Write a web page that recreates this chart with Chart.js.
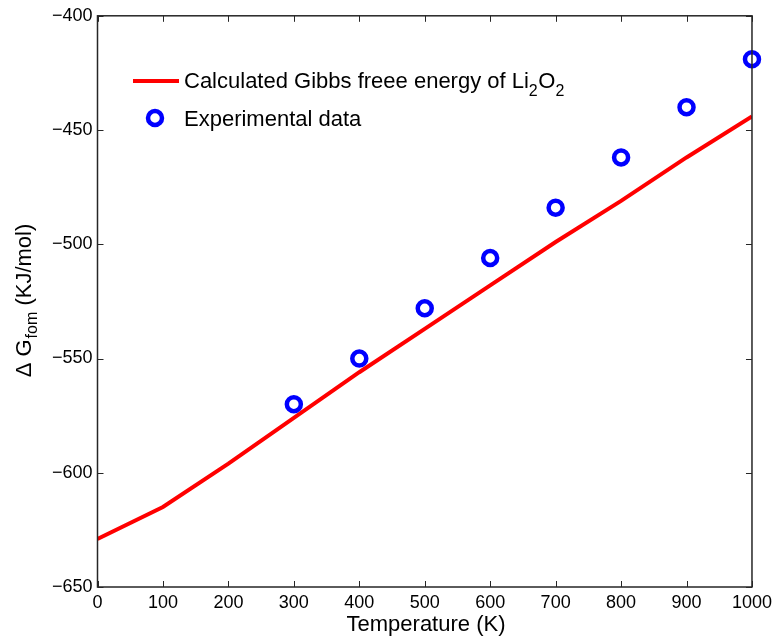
<!DOCTYPE html>
<html><head><meta charset="utf-8">
<script src="https://cdn.jsdelivr.net/npm/chart.js@4/dist/chart.umd.min.js"></script>
<style>html,body{margin:0;padding:0;background:#fff}#wrap{width:777px;height:641px}</style>
</head><body><div id="wrap"><canvas id="c" width="777" height="641"></canvas></div>
<script>
const temps = [0,100,200,300,400,500,600,700,800,900,1000];
const calcG = [-629,-615,-596,-576,-556,-537,-518,-499,-481,-462,-444];
const expT = [300,400,500,600,700,800,900,1000];
const expG = [-570,-550,-528,-506,-484,-462,-440,-419];
const xTicks = [0,100,200,300,400,500,600,700,800,900,1000];
const yTicks = [-650,-600,-550,-500,-450,-400];
const FONT = '"Liberation Sans", Arial, sans-serif';

const decor = {
  id:'decor',
  afterDraw(chart){
    const ctx = chart.ctx, a = chart.chartArea, xs = chart.scales.x, ys = chart.scales.y;
    ctx.save();
    ctx.strokeStyle = '#262626'; ctx.lineWidth = 1.5;
    ctx.strokeRect(a.left, a.top, a.right-a.left, a.bottom-a.top);
    ctx.lineWidth = 1;
    const L = 6;
    xTicks.forEach(v=>{ const p = Math.round(xs.getPixelForValue(v))+0.5;
      ctx.beginPath(); ctx.moveTo(p,a.bottom); ctx.lineTo(p,a.bottom-L);
      ctx.moveTo(p,a.top); ctx.lineTo(p,a.top+L); ctx.stroke(); });
    yTicks.forEach(v=>{ const p = Math.round(ys.getPixelForValue(v))+0.5;
      ctx.beginPath(); ctx.moveTo(a.left,p); ctx.lineTo(a.left+L,p);
      ctx.moveTo(a.right,p); ctx.lineTo(a.right-L,p); ctx.stroke(); });
    // x title
    ctx.fillStyle = '#000'; ctx.textAlign='center'; ctx.textBaseline='alphabetic';
    ctx.font = '22px '+FONT;
    ctx.fillText('Temperature (K)', 426, 631);
    // y title with subscript
    ctx.save();
    ctx.translate(31, 301);
    ctx.rotate(-Math.PI/2);
    const p1 = '\u0394 G', sub = 'fom', p2 = ' (KJ/mol)';
    ctx.font = '22px '+FONT; const w1 = ctx.measureText(p1).width, w3 = ctx.measureText(p2).width;
    ctx.font = '16px '+FONT; const w2 = ctx.measureText(sub).width;
    let x0 = -(w1+w2+w3)/2;
    ctx.textAlign='left';
    ctx.font = '22px '+FONT; ctx.fillText(p1, x0, 0);
    ctx.font = '16px '+FONT; ctx.fillText(sub, x0+w1+1, 6);
    ctx.font = '22px '+FONT; ctx.fillText(p2, x0+w1+w2+1, 0);
    ctx.restore();
    // legend
    ctx.strokeStyle = '#ff0000'; ctx.lineWidth = 4;
    ctx.beginPath(); ctx.moveTo(133,81); ctx.lineTo(179,81); ctx.stroke();
    ctx.fillStyle = '#000'; ctx.textAlign='left'; ctx.textBaseline='alphabetic';
    let tx = 184;
    const parts = [['Calculated Gibbs freee energy of Li',0],['2',1],['O',0],['2',1]];
    parts.forEach(([t,s])=>{
      ctx.font = (s? '16px ':'22px ')+FONT;
      ctx.fillText(t, tx, s? 96 : 88);
      tx += ctx.measureText(t).width + (s?0.5:0);
    });
    ctx.font = '22px '+FONT;
    ctx.fillText('Experimental data', 184, 126);
    ctx.strokeStyle = '#0000ff'; ctx.lineWidth = 4.5; ctx.fillStyle='#fff';
    ctx.beginPath(); ctx.arc(155,118,7,0,Math.PI*2); ctx.fill(); ctx.stroke();
    ctx.restore();
  }
};

new Chart(document.getElementById('c'), {
  type:'line',
  data:{ datasets:[
    { label:'Experimental data', data: expT.map((t,i)=>({x:t,y:expG[i]})), showLine:false,
      pointStyle:'circle', pointRadius:7, pointBorderWidth:4.5, pointBorderColor:'#0000ff',
      pointBackgroundColor:'#ffffff', borderColor:'#0000ff', order:0, clip:false },
    { label:'Calculated Gibbs freee energy of Li2O2', data: temps.map((t,i)=>({x:t,y:calcG[i]})),
      borderColor:'#ff0000', borderWidth:4, pointRadius:0, tension:0, fill:false, order:1 }
  ]},
  options:{
    responsive:false, animation:false, devicePixelRatio:1,
    layout:{padding:{left:0,top:15.5,right:25,bottom:0}},
    plugins:{legend:{display:false}, tooltip:{enabled:false}},
    scales:{
      x:{ type:'linear', min:0, max:1000, afterFit(s){s.height=54;},
        afterBuildTicks(s){ s.ticks = xTicks.map(v=>({value:v})); },
        grid:{display:false, drawTicks:false}, border:{display:false},
        ticks:{ color:'#000', font:{family:FONT,size:18}, padding:5, maxRotation:0, autoSkip:false,
          callback:(v)=> String(v) } },
      y:{ type:'linear', min:-650, max:-400, afterFit(s){s.width=97.5;},
        afterBuildTicks(s){ s.ticks = yTicks.map(v=>({value:v})); },
        grid:{display:false, drawTicks:false}, border:{display:false},
        ticks:{ color:'#000', font:{family:FONT,size:18}, padding:5,
          callback:(v)=> (v<0?'\u2212':'')+Math.abs(v) } }
    }
  },
  plugins:[decor]
});
</script></body></html>
